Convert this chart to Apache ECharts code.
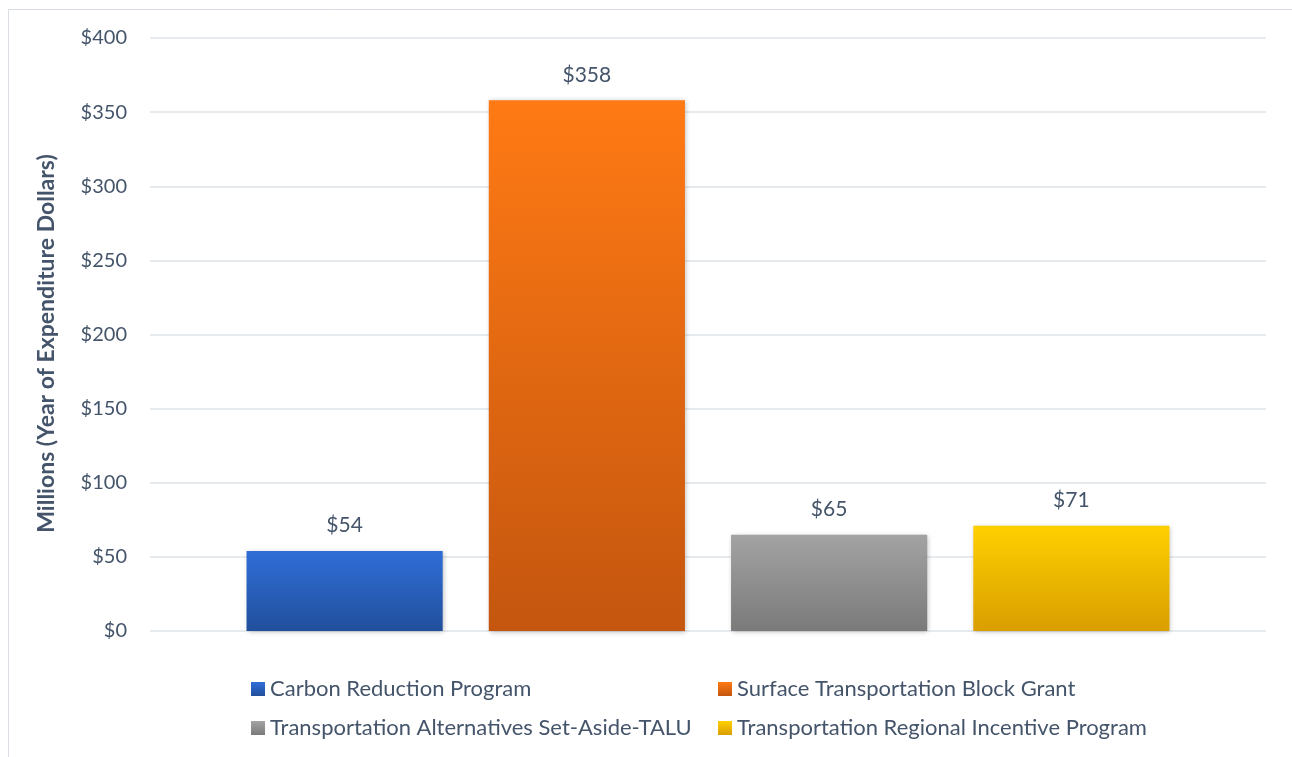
<!DOCTYPE html>
<html>
<head>
<meta charset="utf-8">
<script src="https://cdn.jsdelivr.net/npm/echarts@6/dist/echarts.min.js"></script>
<style>
  html, body { margin: 0; padding: 0; background: #ffffff; }
  #chart { width: 1292px; height: 757px; }
</style>
</head>
<body>
<div id="chart"></div>
<script>
// Funding totals by program, millions of year-of-expenditure dollars
const programs = [
  'Carbon Reduction Program',
  'Surface Transportation Block Grant',
  'Transportation Alternatives Set-Aside-TALU',
  'Transportation Regional Incentive Program'
];
const amounts = [54, 358, 65, 71];
const yTicks = [0, 50, 100, 150, 200, 250, 300, 350, 400];
const axisTitle = 'Millions (Year of Expenditure Dollars)';

// Top and bottom shades of each bar's vertical gradient
const shades = [
  ['#2f6ed8', '#214f9c'],
  ['#ff7a14', '#c4560f'],
  ['#a3a3a3', '#7a7a7a'],
  ['#ffd000', '#d99e00']
];

const textColor = '#44546a';
const fontFamily = 'Lato, "Open Sans", sans-serif';

const chart = echarts.init(document.getElementById('chart'), null, { renderer: 'canvas' });

function grad(i) {
  return new echarts.graphic.LinearGradient(0, 0, 0, 1, [
    { offset: 0, color: shades[i][0] },
    { offset: 1, color: shades[i][1] }
  ]);
}

// One legend block per entry, laid out as a two-by-two grid
const legendSpots = [
  { left: 251, top: 678 },
  { left: 718, top: 678 },
  { left: 251, top: 717 },
  { left: 718, top: 717 }
];
const legends = programs.map((p, i) => ({
  data: [p],
  left: legendSpots[i].left,
  top: legendSpots[i].top,
  padding: 0,
  orient: 'horizontal',
  itemWidth: 14,
  itemHeight: 14,
  itemGap: 0,
  icon: 'rect',
  selectedMode: false,
  textStyle: { color: textColor, fontSize: 22, fontFamily: fontFamily }
}));

const series = programs.map((p, i) => ({
  name: p,
  type: 'bar',
  data: [amounts[i]],
  barGap: '23.5%',
  barCategoryGap: '17.3%',
  itemStyle: {
    color: grad(i),
    shadowColor: 'rgba(0,0,0,0.28)',
    shadowBlur: 5,
    shadowOffsetX: 1,
    shadowOffsetY: 1
  },
  label: {
    show: true,
    position: 'top',
    distance: 15,
    color: textColor,
    fontSize: 21,
    fontFamily: fontFamily,
    formatter: (d) => '$' + d.value
  }
}));

chart.setOption({
  animation: false,
  backgroundColor: '#ffffff',
  graphic: [{
    type: 'rect',
    shape: { x: 8.5, y: 9.5, width: 1400, height: 900 },
    style: { fill: 'none', stroke: '#d9dee5', lineWidth: 1 },
    silent: true
  }],
  legend: legends,
  grid: { left: 150, right: 26, top: 38, bottom: 126, containLabel: false },
  xAxis: {
    type: 'category',
    data: [''],
    axisLine: { show: false },
    axisTick: { show: false },
    axisLabel: { show: false }
  },
  yAxis: {
    type: 'value',
    min: yTicks[0],
    max: yTicks[yTicks.length - 1],
    interval: yTicks[1] - yTicks[0],
    name: axisTitle,
    nameLocation: 'middle',
    nameGap: 92,
    nameRotate: 90,
    nameTextStyle: {
      color: textColor, fontSize: 23, fontWeight: 'bold', fontFamily: fontFamily,
      padding: [0, 18, 0, 0]
    },
    axisLine: { show: false },
    axisTick: { show: false },
    axisLabel: {
      color: textColor,
      fontSize: 20,
      fontFamily: fontFamily,
      margin: 23,
      formatter: (v) => '$' + v
    },
    splitLine: { lineStyle: { color: '#dfe3e8', width: 1.5 } }
  },
  series: series
});
</script>
</body>
</html>
